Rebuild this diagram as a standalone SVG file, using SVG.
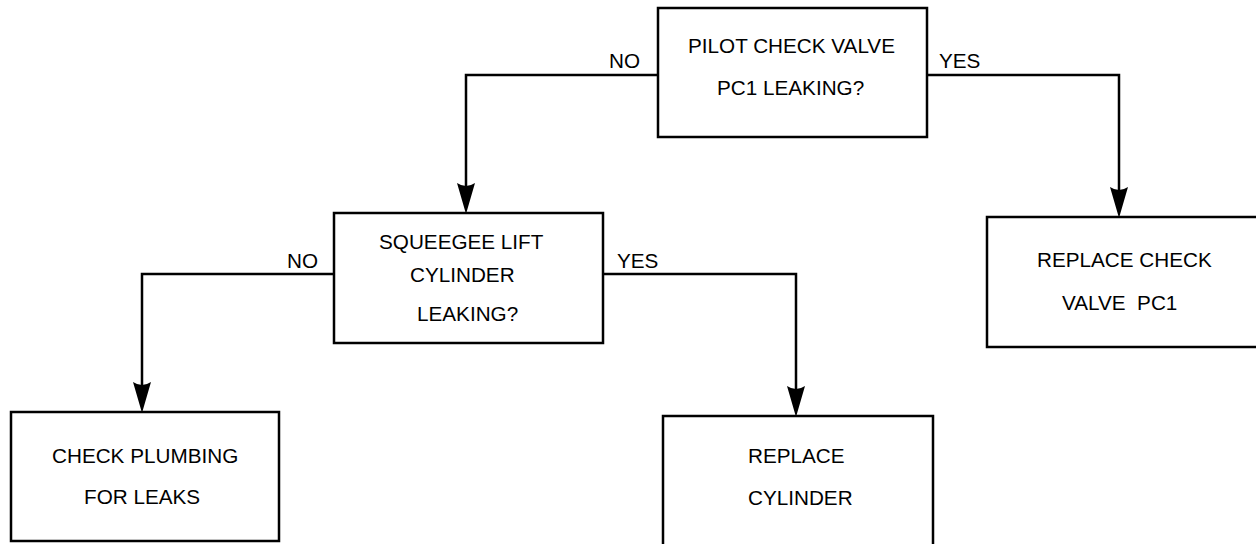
<svg xmlns="http://www.w3.org/2000/svg" width="1256" height="544" viewBox="0 0 1256 544">
<style>
.box{fill:#fff;stroke:#000;stroke-width:2.5}
.ln{fill:none;stroke:#000;stroke-width:2.5}
.ah{fill:#000;stroke:none}
text{font-family:"Liberation Sans",Arial,sans-serif;font-size:20.7px;fill:#000;white-space:pre}
</style>
<defs>
<path id="head" d="M0,0 L-9,-31 Q0,-25 9,-31 Z"/>
</defs>
<rect width="1256" height="544" fill="#fff"/>
<g id="connectors">
<path class="ln" d="M658,75 H466 V190"/>
<use href="#head" class="ah" x="466" y="214"/>
<path class="ln" d="M927,75 H1119 V194"/>
<use href="#head" class="ah" x="1119" y="218"/>
<path class="ln" d="M334,274 H142 V389"/>
<use href="#head" class="ah" x="142" y="413"/>
<path class="ln" d="M603,274 H796 V393"/>
<use href="#head" class="ah" x="796" y="417"/>
<text x="609" y="68">NO</text>
<text x="939" y="68">YES</text>
<text x="287" y="268">NO</text>
<text x="617" y="268">YES</text>
</g>
<g id="n1">
<rect class="box" x="658" y="8" width="269" height="129"/>
<text x="688" y="53">PILOT CHECK VALVE</text>
<text x="717" y="95">PC1 LEAKING?</text>
</g>
<g id="n2">
<rect class="box" x="334" y="213" width="269" height="130"/>
<text x="379" y="249">SQUEEGEE LIFT</text>
<text x="410" y="282">CYLINDER</text>
<text x="417" y="321">LEAKING?</text>
</g>
<g id="n3">
<rect class="box" x="987" y="217" width="272" height="130"/>
<text x="1037" y="267">REPLACE CHECK</text>
<text x="1062" y="310">VALVE  PC1</text>
</g>
<g id="n4">
<rect class="box" x="11" y="412" width="268" height="129"/>
<text x="52" y="463">CHECK PLUMBING</text>
<text x="84" y="504">FOR LEAKS</text>
</g>
<g id="n5">
<rect class="box" x="663" y="416" width="270" height="140"/>
<text x="748" y="463">REPLACE</text>
<text x="748" y="505">CYLINDER</text>
</g>
</svg>
